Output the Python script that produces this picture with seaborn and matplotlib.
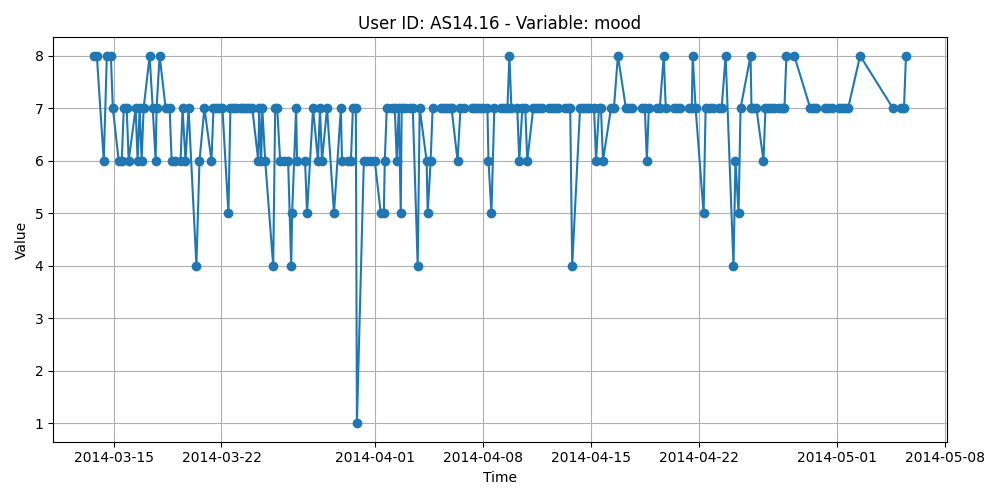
import numpy as np
import pandas as pd
import matplotlib
matplotlib.use("Agg")
import matplotlib.pyplot as plt
import seaborn as sns

# mood entries, time given as days after 2014-03-15 00:00
day_offset = [
    -1.30, -1.10, -0.65, -0.45, -0.19, -0.06, 0.32, 0.52, 0.65, 0.84,
    0.97, 1.42, 1.55, 1.68, 1.81, 1.94, 2.33, 2.53, 2.72, 2.78,
    2.98, 3.37, 3.63, 3.76, 4.01, 4.34, 4.47, 4.66, 4.86, 5.37,
    5.57, 5.89, 6.35, 6.48, 6.67, 6.86, 7.06, 7.45, 7.58, 7.77,
    7.96, 8.29, 8.42, 8.61, 8.81, 9.00, 9.39, 9.45, 9.58, 9.65,
    9.84, 10.36, 10.49, 10.62, 10.81, 11.07, 11.33, 11.53, 11.59, 11.85,
    11.91, 12.43, 12.56, 12.95, 13.27, 13.40, 13.53, 13.86, 14.31, 14.76,
    14.83, 15.22, 15.41, 15.54, 15.73, 15.80, 16.25, 16.45, 16.71, 16.96,
    17.35, 17.55, 17.61, 17.74, 18.07, 18.26, 18.39, 18.52, 18.65, 18.71,
    18.91, 19.23, 19.43, 19.75, 19.88, 20.33, 20.40, 20.59, 20.72, 21.24,
    21.43, 21.63, 21.82, 21.95, 22.34, 22.53, 22.79, 23.25, 23.44, 23.63,
    23.83, 24.02, 24.28, 24.35, 24.54, 24.73, 25.19, 25.38, 25.58, 25.71,
    25.84, 26.22, 26.35, 26.55, 26.74, 26.87, 27.26, 27.45, 27.65, 27.84,
    28.30, 28.49, 28.68, 28.88, 29.33, 29.53, 29.66, 29.79, 30.30, 30.50,
    30.69, 30.89, 31.21, 31.34, 31.53, 31.66, 31.79, 32.31, 32.50, 32.76,
    33.28, 33.48, 33.67, 34.32, 34.51, 34.64, 34.77, 35.29, 35.48, 35.74,
    35.87, 36.39, 36.58, 36.78, 37.36, 37.56, 37.62, 37.81, 38.33, 38.46,
    38.72, 38.91, 39.30, 39.50, 39.76, 40.27, 40.40, 40.60, 40.73, 41.38,
    41.44, 41.57, 41.76, 42.22, 42.35, 42.54, 42.74, 42.93, 43.25, 43.45,
    43.58, 43.71, 44.22, 45.26, 45.45, 45.65, 46.23, 46.43, 46.68, 47.14,
    47.33, 47.53, 47.72, 48.50, 50.63, 51.15, 51.35, 51.48,
]
mood = [
    8, 8, 6, 8, 8, 7, 6, 6, 7, 7,
    6, 7, 6, 7, 6, 7, 8, 7, 6, 7,
    8, 7, 7, 6, 6, 6, 7, 6, 7, 4,
    6, 7, 6, 7, 7, 7, 7, 5, 7, 7,
    7, 7, 7, 7, 7, 7, 6, 7, 6, 7,
    6, 4, 7, 7, 6, 6, 6, 4, 5, 7,
    6, 6, 5, 7, 6, 7, 6, 7, 5, 7,
    6, 6, 6, 7, 7, 1, 6, 6, 6, 6,
    5, 5, 6, 7, 7, 7, 6, 7, 5, 7,
    7, 7, 7, 4, 7, 6, 5, 6, 7, 7,
    7, 7, 7, 7, 6, 7, 7, 7, 7, 7,
    7, 7, 7, 6, 5, 7, 7, 7, 7, 8,
    7, 7, 6, 7, 7, 6, 7, 7, 7, 7,
    7, 7, 7, 7, 7, 7, 7, 4, 7, 7,
    7, 7, 7, 6, 7, 7, 6, 7, 7, 8,
    7, 7, 7, 7, 7, 6, 7, 7, 7, 8,
    7, 7, 7, 7, 7, 7, 8, 7, 5, 7,
    7, 7, 7, 7, 8, 4, 6, 5, 7, 8,
    7, 7, 7, 6, 7, 7, 7, 7, 7, 7,
    7, 8, 8, 7, 7, 7, 7, 7, 7, 7,
    7, 7, 7, 8, 7, 7, 7, 8,
]

start = pd.Timestamp("2014-03-15")
df = pd.DataFrame({
    "time": start + pd.to_timedelta(day_offset, unit="D"),
    "value": mood,
})

fig, ax = plt.subplots(figsize=(10, 5), dpi=100)
sns.lineplot(data=df, x="time", y="value", ax=ax, color="#1f77b4",
             marker="o", markersize=6, markeredgecolor="#1f77b4",
             markeredgewidth=1, linewidth=1.5, sort=False)
ax.set_title("User ID: AS14.16 - Variable: mood")
ax.set_xlabel("Time")
ax.set_ylabel("Value")
ax.grid(True)
fig.tight_layout()
fig.savefig("out.png")
